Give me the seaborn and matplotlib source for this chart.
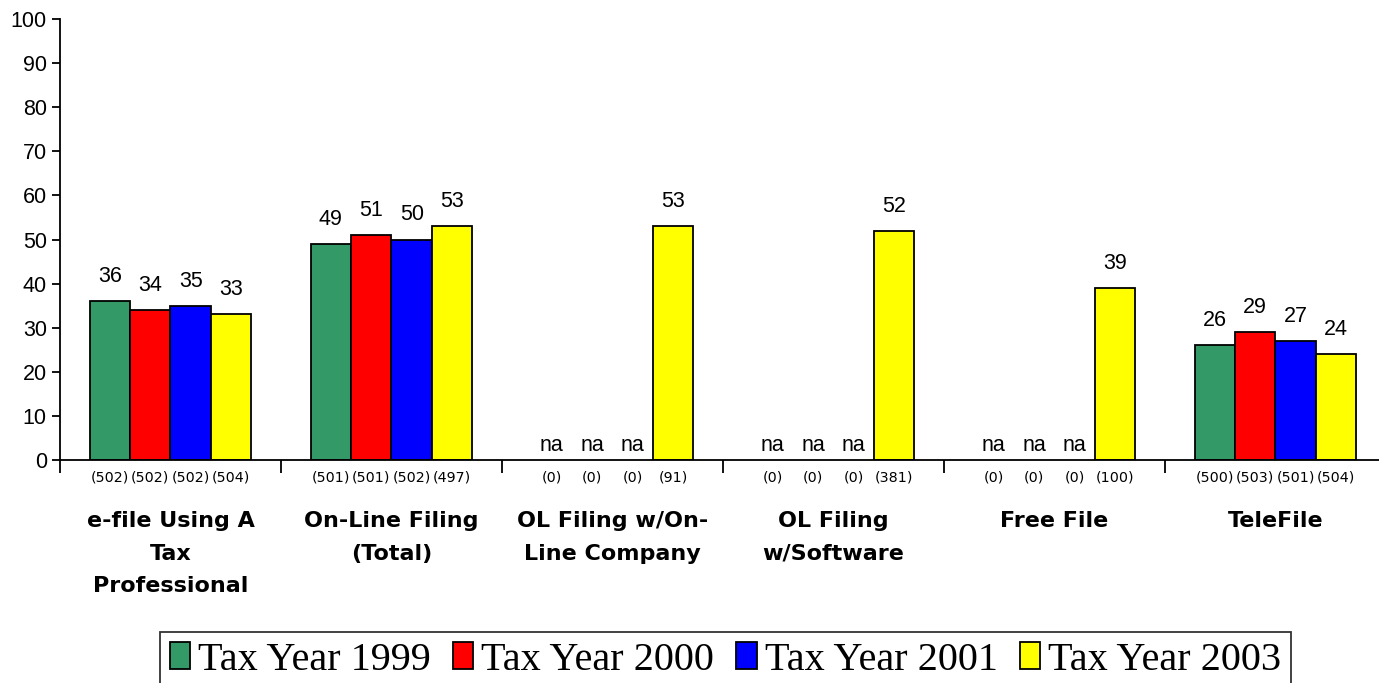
import numpy as np
import pandas as pd
import seaborn as sns
import matplotlib.pyplot as plt
import matplotlib.transforms as mtransforms

categories = ["e-file Using A\nTax\nProfessional", "On-Line Filing\n(Total)",
              "OL Filing w/On-\nLine Company", "OL Filing\nw/Software",
              "Free File", "TeleFile"]
years = ["Tax Year 1999", "Tax Year 2000", "Tax Year 2001", "Tax Year 2003"]
y1999 = [36, 49, np.nan, np.nan, np.nan, 26]
y2000 = [34, 51, np.nan, np.nan, np.nan, 29]
y2001 = [35, 50, np.nan, np.nan, np.nan, 27]
y2003 = [33, 53, 53, 52, 39, 24]
n1999 = [502, 501, 0, 0, 0, 500]
n2000 = [502, 501, 0, 0, 0, 503]
n2001 = [502, 502, 0, 0, 0, 501]
n2003 = [504, 497, 91, 381, 100, 504]
colors = ["#339966", "#FF0000", "#0000FF", "#FFFF00"]

values = [y1999, y2000, y2001, y2003]
counts = [n1999, n2000, n2001, n2003]

rows = []
for yr, vals in zip(years, values):
    for cat, v in zip(categories, vals):
        rows.append({"Category": cat, "Year": yr, "Percent": v})
df = pd.DataFrame(rows)

sns.set_style("ticks")
plt.rcParams['font.family'] = ['Liberation Sans', 'DejaVu Sans']
plt.rcParams['text.color'] = 'black'
plt.rcParams['ytick.color'] = 'black'
plt.rcParams['xtick.color'] = 'black'

fig = plt.figure(figsize=(13.79, 6.83), dpi=100)
ax = fig.add_axes([60 / 1379, 223 / 683, 1326 / 1379, 441 / 683])

sns.barplot(data=df, x="Category", y="Percent", hue="Year", order=categories,
            hue_order=years, palette=colors, saturation=1, width=0.733, dodge=True,
            edgecolor="black", linewidth=1.3, errorbar=None, legend=False, ax=ax)

ax.set_ylim(0, 100)
ax.set_xlim(-0.5, len(categories) - 0.5)
ax.set_yticks(range(0, 101, 10))
ax.tick_params(axis='y', labelsize=15.5, length=6, width=1.3, labelcolor='black')
ax.set_xticks(np.arange(-0.5, len(categories), 1.0))
ax.set_xticklabels([])
ax.tick_params(axis='x', length=9, width=1.3)
ax.set_xlabel("")
ax.set_ylabel("")
sns.despine(ax=ax)
for s in ["left", "bottom"]:
    ax.spines[s].set_linewidth(1.3)
    ax.spines[s].set_color("black")

bw = 0.733 / 4
trans = mtransforms.blended_transform_factory(ax.transData, ax.transAxes)
for j, (vals, ns) in enumerate(zip(values, counts)):
    for i, (v, n) in enumerate(zip(vals, ns)):
        xc = i - 0.733 / 2 + bw * (j + 0.5)
        if np.isnan(v):
            ax.text(xc, 0.8, "na", ha='center', va='bottom', fontsize=15.5)
        else:
            ax.text(xc, v + 3.2, f"{v:.0f}", ha='center', va='bottom', fontsize=15.5)
        ax.text(xc, -0.039, f"({n})", ha='center', va='center', fontsize=10.3,
                family=['DejaVu Sans'], transform=trans)

for i, cat in enumerate(categories):
    ax.text(i, -0.115, cat, ha='center', va='top', fontsize=16, fontweight='bold',
            family=['DejaVu Sans'], linespacing=1.8, transform=trans)

handles = [plt.Rectangle((0, 0), 1, 1, facecolor=c, edgecolor='black', linewidth=1.3)
           for c in colors]
leg = fig.legend(handles, years, loc='upper left', bbox_to_anchor=(160 / 1379, 1 - 632 / 683),
                 ncol=4, frameon=True, fancybox=False, edgecolor='black',
                 prop={'family': 'Liberation Serif', 'size': 29},
                 handlelength=0.5, handleheight=0.65, handletextpad=0.2,
                 columnspacing=0.55, borderpad=0.25, borderaxespad=0)
leg.get_frame().set_linewidth(1.3)

fig.savefig("out.png", dpi=100)
